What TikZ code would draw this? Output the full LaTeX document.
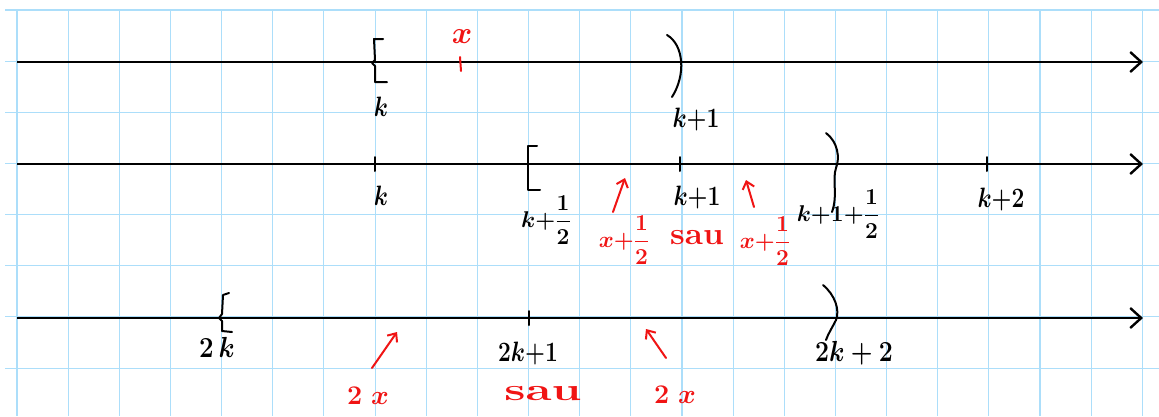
\documentclass[tikz,border=0pt]{standalone}
\usepackage{amsmath}
\usepackage{graphicx}
\usetikzlibrary{arrows.meta}
\definecolor{gridblue}{RGB}{172,222,250}
\definecolor{inkred}{RGB}{240,20,20}
\newcommand{\hw}[1]{\scalebox{1.1}[1.35]{#1}}
\begin{document}
\begin{tikzpicture}[x=1pt,y=-1pt,
  gridline/.style={gridblue, line width=1.1pt},
  axis/.style={line width=2.4pt, -{Straight Barb[length=11pt,width=20pt]}},
  ink/.style={line width=2pt, line cap=round, line join=round},
  redink/.style={ink, inkred},
  lbl/.style={font=\huge\boldmath\bfseries, inner sep=0pt},
  rlbl/.style={lbl, text=inkred},
  ptr/.style={redink, -{Straight Barb[length=7pt,width=12pt]}}]
\fill[white] (0,0) rectangle (1159,416);
\useasboundingbox (0,0) rectangle (1159,416);
% grid
\foreach \i in {0,...,22} \draw[gridline] ({17+51.15*\i},9) -- ({17+51.15*\i},416);
\foreach \j in {0,...,7} \draw[gridline] (5,{10+51.15*\j}) -- (1159,{10+51.15*\j});
% axes
\coordinate (a1s) at (17,62); \coordinate (a1e) at (1143,62);
\coordinate (a2s) at (17,164); \coordinate (a2e) at (1143,164);
\coordinate (a3s) at (17,318); \coordinate (a3e) at (1143,318);
\draw[axis] (a1s) -- (a1e);
\draw[axis] (a2s) -- (a2e);
\draw[axis] (a3s) -- (a3e);
% line 1
\draw[ink] (383,39) -- (374,39) -- (375,60) -- (372,63) -- (375,66) -- (375,82) -- (387,82);
\draw[ink] (667,35) .. controls (684,45) and (686,75) .. (672,97);
\draw[redink] (460,57) -- (461,71);
\node[rlbl] (x1) at (462,37) {\scalebox{1.5}{$x$}};
\node[lbl] (k1) at (381,107) {\hw{$k$}};
\node[lbl] (k1p) at (696,120) {\hw{$k{+}1$}};
% line 2
\draw[ink] (375,157) -- (375,171);
\draw[ink] (680,157) -- (680,171);
\draw[ink] (987,157) -- (987,171);
\draw[ink] (537,146) -- (528,146) -- (528,190) -- (540,190);
\draw[ink] (826,133) .. controls (838,142) and (840,158) .. (836,168) .. controls (832,180) and (838,195) .. (832,212);
\node[lbl] (k2) at (381,196) {\hw{$k$}};
\node[lbl] (k2h) at (546,220) {\scalebox{1.1}{$k{+}\dfrac{1}{2}$}};
\node[lbl] (k2p) at (697,198) {\hw{$k{+}1$}};
\node[lbl] (k2ph) at (838,214) {\scalebox{1.1}{$k{+}1{+}\dfrac{1}{2}$}};
\node[lbl] (k2pp) at (1001,200) {\hw{$k{+}2$}};
\coordinate (t1) at (613,212); \coordinate (h1) at (625,178);
\coordinate (t2) at (754,207); \coordinate (h2) at (746,180);
\draw[ptr] (t1) -- (h1);
\draw[ptr] (t2) -- (h2);
\node[rlbl] (xh1) at (624,240) {\scalebox{1.1}{$x{+}\dfrac{1}{2}$}};
\node[rlbl] (sau1) at (697,238) {\scalebox{1.6}[1.5]{sau}};
\node[rlbl] (xh2) at (765,241) {\scalebox{1.1}{$x{+}\dfrac{1}{2}$}};
% line 3
\draw[ink] (529,311) -- (529,325);
\draw[ink] (229,293) -- (223,295) -- (222,314) -- (219,318) -- (222,321) -- (222,331) -- (232,332);
\draw[ink] (823,285) .. controls (835,295) and (840,310) .. (836,320) .. controls (832,328) and (828,334) .. (826,340);
\node[lbl] (k3) at (217,347) {\scalebox{1.25}[1.4]{$2\,k$}};
\node[lbl] (k3p) at (528,354) {\hw{$2k{+}1$}};
\node[lbl] (k3pp) at (854,353) {\scalebox{1.2}[1.4]{$2k+2$}};
\coordinate (t3) at (372,368); \coordinate (h3) at (397,332);
\coordinate (t4) at (666,358); \coordinate (h4) at (646,329);
\draw[ptr] (t3) -- (h3);
\draw[ptr] (t4) -- (h4);
\node[rlbl] (x3a) at (368,396) {\scalebox{1.3}{$2\;x$}};
\node[rlbl] (sau2) at (543,394) {\scalebox{2.3}[1.5]{sau}};
\node[rlbl] (x3b) at (675,395) {\scalebox{1.3}{$2\;x$}};
\end{tikzpicture}
\end{document}
